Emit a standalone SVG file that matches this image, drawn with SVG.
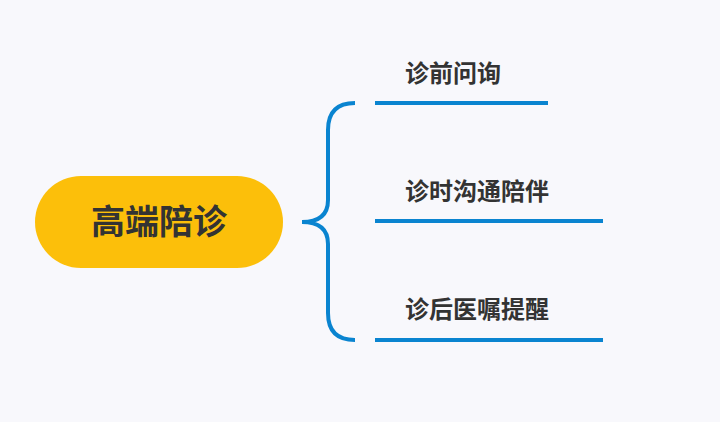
<svg xmlns="http://www.w3.org/2000/svg" width="720" height="422" viewBox="0 0 720 422">
<style>
.t{font-family:"Noto Sans CJK SC","Noto Sans",sans-serif;font-weight:bold;fill:#333}
.l{stroke:#0A84D0;stroke-width:4;fill:none}
</style>
<rect width="720" height="422" fill="#F8F8FC"/>
<g id="root">
<rect x="35" y="176" width="248" height="92" rx="46" fill="#FCBF0A"/>
<text class="t" x="159" y="234" font-size="34" text-anchor="middle">高端陪诊</text>
</g>
<g id="connectors">
<path class="l" d="M355,103 Q328,103 328,130 L328,200 Q328,222 302,222 Q328,222 328,244 L328,313 Q328,340 355,340"/>
</g>
<g id="n1"><text class="t" x="405" y="82" font-size="24">诊前问询</text><line class="l" x1="375" y1="103" x2="548" y2="103"/></g>
<g id="n2"><text class="t" x="405" y="200" font-size="24">诊时沟通陪伴</text><line class="l" x1="375" y1="221" x2="603" y2="221"/></g>
<g id="n3"><text class="t" x="405" y="318" font-size="24">诊后医嘱提醒</text><line class="l" x1="375" y1="340" x2="603" y2="340"/></g>
</svg>
